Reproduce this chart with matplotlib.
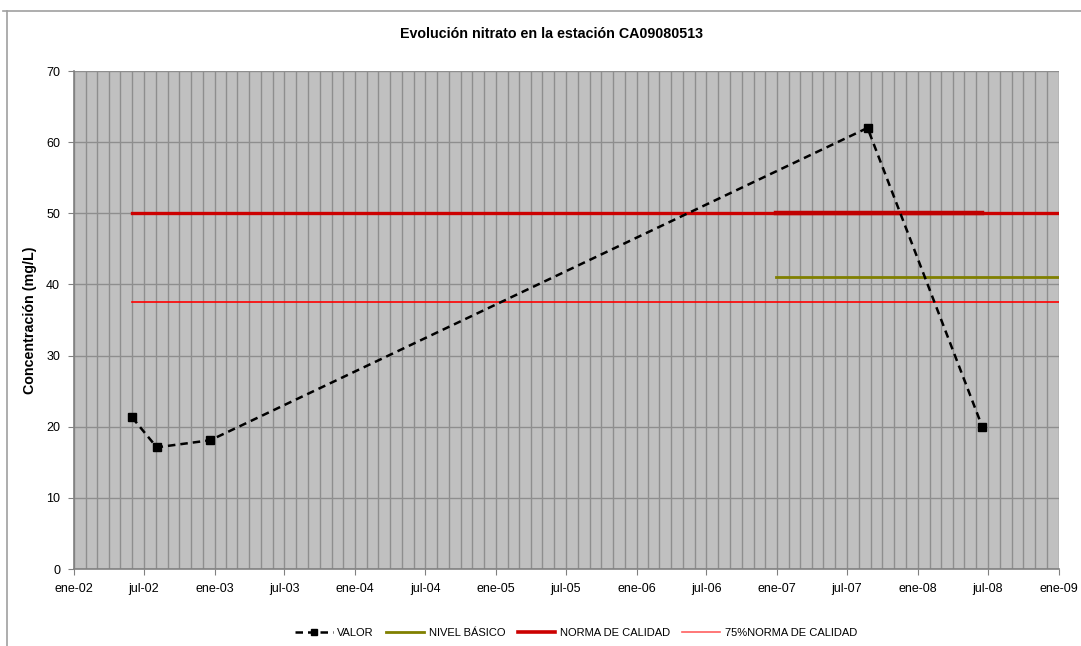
import matplotlib
matplotlib.use("Agg")
import matplotlib.pyplot as plt
import matplotlib.dates as mdates
from matplotlib import font_manager
from matplotlib.lines import Line2D
import numpy as np
import pandas as pd

plt.rcParams['font.family'] = ['Liberation Sans', 'DejaVu Sans']

# fuente estrecha para título, eje y leyenda (si existe)
nombres = {f.name for f in font_manager.fontManager.ttflist}
estrecha = "Liberation Sans Narrow" if "Liberation Sans Narrow" in nombres else "Liberation Sans"
escala = 1.0 if estrecha == "Liberation Sans Narrow" else 0.82

# datos de la estación
fechas = pd.to_datetime(["2002-06-01", "2002-08-04", "2002-12-21", "2007-08-24", "2008-06-17"])
valores = [21.3, 17.1, 18.1, 62.0, 20.0]

norma_fechas = pd.to_datetime(["2002-06-01", "2009-01-01"])
norma_valores = [50, 50]
norma_tramo_fechas = pd.to_datetime(["2006-12-28", "2008-06-17"])
norma_tramo_valores = [50, 50]
basico_fechas = pd.to_datetime(["2006-12-28", "2009-01-01"])
basico_valores = [41, 41]
norma75_fechas = pd.to_datetime(["2002-06-01", "2009-01-01"])
norma75_valores = [37.5, 37.5]

meses = ["ene", "feb", "mar", "abr", "may", "jun", "jul", "ago", "sep", "oct", "nov", "dic"]

def fmt_fecha(x, pos=None):
    d = mdates.num2date(x)
    return f"{meses[d.month - 1]}-{d.year % 100:02d}"

fig = plt.figure(figsize=(10.81, 6.46), dpi=100)
ax = fig.add_axes([74 / 1081, 1 - 569 / 646, (1058.5 - 74) / 1081, (569 - 71) / 646])
ax.set_facecolor("#C0C0C0")

ax.plot(norma75_fechas, norma75_valores, color="#FF0000", linewidth=1.2, label="75%NORMA DE CALIDAD", zorder=3)
ax.plot(basico_fechas, basico_valores, color="#808000", linewidth=2, label="NIVEL BÁSICO", zorder=3)
ax.plot(norma_fechas, norma_valores, color="#CC0000", linewidth=2.4, label="NORMA DE CALIDAD", zorder=3)
ax.plot(norma_tramo_fechas, norma_tramo_valores, color="#C00000", linewidth=3.2, zorder=3)
ax.plot(fechas, valores, color="black", linestyle=(0, (3, 2)), linewidth=1.8,
        marker="s", markersize=6, label="VALOR", zorder=4)

ax.set_xlim(pd.Timestamp("2002-01-01"), pd.Timestamp("2009-01-01"))
ax.set_ylim(0, 70)
ax.set_yticks(np.arange(0, 71, 10))
ax.xaxis.set_major_locator(mdates.MonthLocator(bymonth=[1, 7]))
ax.xaxis.set_minor_locator(mdates.MonthLocator())
ax.xaxis.set_major_formatter(plt.FuncFormatter(fmt_fecha))

ax.grid(True, which="both", axis="x", color="#8E8E8E", linewidth=1)
ax.grid(True, which="major", axis="y", color="#8E8E8E", linewidth=1)
ax.set_axisbelow(True)

for s in ["top", "right"]:
    ax.spines[s].set_visible(False)
for s in ["left", "bottom"]:
    ax.spines[s].set_color("#808080")
    ax.spines[s].set_linewidth(1.2)
ax.tick_params(axis="both", which="major", direction="out", length=4, color="#808080",
               labelsize=9, pad=6)
ax.tick_params(axis="x", which="minor", length=0)

fig.text(30 / 1081, 1 - 320 / 646, "Concentración (mg/L)", rotation=90, ha="center", va="center",
         fontsize=12.5 * escala, fontweight="bold", family=[estrecha, "DejaVu Sans"])
fig.text(552 / 1081, 1 - 34 / 646, "Evolución nitrato en la estación CA09080513", ha="center", va="center",
         fontsize=12.5 * escala, fontweight="bold", family=[estrecha, "DejaVu Sans"])

handles = [
    Line2D([], [], color="black", linestyle=(0, (3, 2)), linewidth=1.8, marker="s", markersize=5),
    Line2D([], [], color="#808000", linewidth=2),
    Line2D([], [], color="#CC0000", linewidth=2.6),
    Line2D([], [], color="#FF6060", linewidth=1.2),
]
labels = ["VALOR", "NIVEL BÁSICO", "NORMA DE CALIDAD", "75%NORMA DE CALIDAD"]
fig.legend(handles, labels, loc="center", bbox_to_anchor=(576 / 1081, 1 - 633 / 646), ncol=4,
           frameon=False, prop={"family": [estrecha, "DejaVu Sans"], "size": 9.8 * escala},
           handlelength=3.4, handletextpad=0.4, columnspacing=1.1)

# marco exterior del gráfico
fig.add_artist(Line2D([3 / 1081, 1], [1 - 11 / 646, 1 - 11 / 646], color="#A0A0A0", linewidth=1.2))
fig.add_artist(Line2D([7 / 1081, 7 / 1081], [0, 1 - 11 / 646], color="#A0A0A0", linewidth=1.2))

fig.savefig("out.png", dpi=100)
